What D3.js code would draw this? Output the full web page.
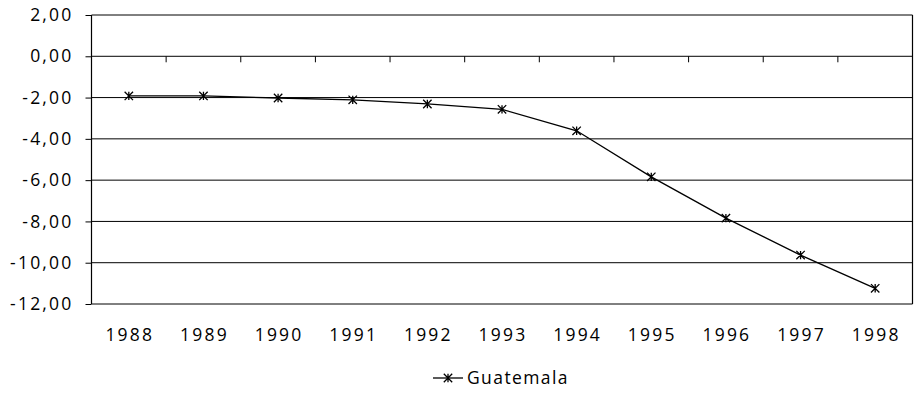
<!DOCTYPE html>
<html>
<head>
<meta charset="utf-8">
<script src="https://cdn.jsdelivr.net/npm/d3@7"></script>
<style>
  html, body { margin: 0; padding: 0; background: #fff; }
  svg { display: block; }
  text { font-family: "Open Sans", "DejaVu Sans", sans-serif; fill: #000; }
</style>
</head>
<body>
<svg id="chart" width="914" height="394"></svg>
<script>
// Series data
const years = ["1988", "1989", "1990", "1991", "1992", "1993", "1994", "1995", "1996", "1997", "1998"];
const guatemala = [-1.92, -1.92, -2.02, -2.11, -2.31, -2.57, -3.61, -5.84, -7.84, -9.63, -11.24];
const yTicks = [2, 0, -2, -4, -6, -8, -10, -12];
const seriesName = "Guatemala";

const svg = d3.select("#chart");
const margin = { left: 91.5, right: 1.5, top: 15, bottom: 90 };
const W = 914;
const labelFont = "17.5px";
const labelSpacing = "2.2px";

const x = d3.scaleBand().domain(years).range([margin.left, W - margin.right]).paddingInner(0).paddingOuter(0);
const y = d3.scaleLinear().domain([-12, 2]).range([304, margin.top]);

const fmt = v => d3.format(".2f")(v).replace(".", ",").replace("−", "-");

// Horizontal gridlines
svg.append("g")
  .selectAll("line")
  .data(yTicks)
  .join("line")
  .attr("x1", margin.left).attr("x2", W - margin.right)
  .attr("y1", d => y(d)).attr("y2", d => y(d))
  .attr("stroke", "#000").attr("stroke-width", 1);

// Plot border (left and right)
[margin.left, W - margin.right].forEach(px => {
  svg.append("line")
    .attr("x1", px).attr("x2", px)
    .attr("y1", y(2)).attr("y2", y(-12))
    .attr("stroke", "#000").attr("stroke-width", 1.2);
});

// Y axis
const yAxis = d3.axisLeft(y).tickValues(yTicks).tickFormat(fmt).tickSize(6).tickPadding(14);
const gy = svg.append("g").attr("transform", `translate(${margin.left},0)`).call(yAxis);
gy.select(".domain").remove();
gy.selectAll(".tick line").attr("stroke", "#000");
gy.selectAll(".tick text")
  .style("font-size", labelFont)
  .style("letter-spacing", labelSpacing)
  .attr("dx", "2px")
  .attr("fill", "#000");

// Category boundary ticks sit on the zero line
const boundaries = years.slice(1).map(d => x(d));
svg.append("g")
  .selectAll("line")
  .data(boundaries)
  .join("line")
  .attr("x1", d => d).attr("x2", d => d)
  .attr("y1", y(0)).attr("y2", y(0) + 6)
  .attr("stroke", "#000").attr("stroke-width", 1);

// Category labels below the plot
svg.append("g")
  .selectAll("text")
  .data(years)
  .join("text")
  .attr("x", d => x(d) + x.bandwidth() / 2 + 1)
  .attr("y", 341)
  .attr("text-anchor", "middle")
  .style("font-size", labelFont)
  .style("letter-spacing", labelSpacing)
  .text(d => d);

// Series line
const pts = years.map((d, i) => [x(d) + x.bandwidth() / 2, y(guatemala[i])]);
svg.append("path")
  .attr("d", d3.line()(pts))
  .attr("fill", "none")
  .attr("stroke", "#000")
  .attr("stroke-width", 1.3);

// Star markers
const star = (cx, cy, r) =>
  `M${cx - r},${cy - r}L${cx + r},${cy + r}M${cx - r},${cy + r}L${cx + r},${cy - r}M${cx},${cy - r}L${cx},${cy + r}`;
svg.append("g")
  .selectAll("path")
  .data(pts)
  .join("path")
  .attr("d", d => star(d[0], d[1], 4.2))
  .attr("stroke", "#000")
  .attr("stroke-width", 1.3)
  .attr("fill", "none");

// Legend
const lg = svg.append("g").attr("transform", "translate(0,378)");
lg.append("line").attr("x1", 433).attr("x2", 463).attr("y1", 0).attr("y2", 0)
  .attr("stroke", "#000").attr("stroke-width", 1.3);
lg.append("path").attr("d", star(448, 0, 4.2)).attr("stroke", "#000").attr("stroke-width", 1.3);
lg.append("text").attr("x", 467).attr("y", 0).attr("dy", "0.36em")
  .style("font-size", labelFont)
  .style("letter-spacing", "1.4px")
  .text(seriesName);
</script>
</body>
</html>
